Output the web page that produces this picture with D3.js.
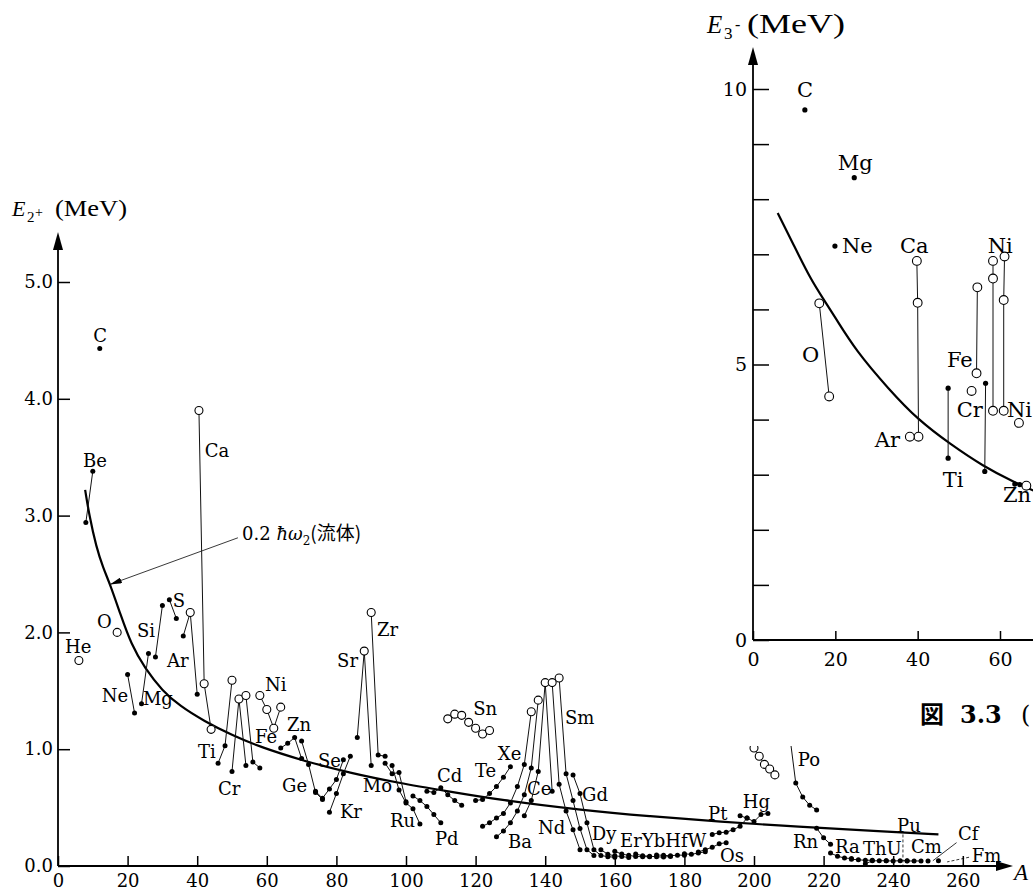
<!DOCTYPE html>
<html>
<head>
<meta charset="utf-8">
<script src="https://cdn.jsdelivr.net/npm/d3@7"></script>
<style>
  body { margin: 0; background: #fff; }
  svg text { font-family: "DejaVu Serif", "Liberation Serif", serif; fill: #000; }
  svg text.title { font-family: "Liberation Serif", serif; }
  .cjk { font-family: "Noto Sans CJK JP", sans-serif; }
</style>
</head>
<body>
<svg id="Target" width="1033" height="892"></svg>
<script>

const mainXTicks = d3.range(0, 261, 20);
const mainYTicks = [0, 1, 2, 3, 4, 5];
const insetXTicks = [0, 20, 40, 60];
const insetYTicks = d3.range(0, 11);

// 0.2 hbar omega_2 (fluid) curve [A, E]
const fluidCurve = [
    [7.8, 3.22], [9, 3.0], [11, 2.73], [13, 2.55], [15, 2.41], [18, 2.15], [21, 1.9],
    [25, 1.69], [30, 1.5], [35, 1.37], [42, 1.24], [50, 1.12], [58, 1.02], [70, 0.905],
    [84, 0.795], [98, 0.71], [112, 0.64], [127, 0.565], [150, 0.48], [170, 0.425],
    [190, 0.38], [213, 0.335], [235, 0.30], [253, 0.27]
];

// fluid curve of the E3- inset
const octupoleCurve = [
    [6, 7.75], [10, 7.15], [14, 6.55], [17, 6.2], [20, 5.85], [25, 5.25], [33, 4.55],
    [40, 4.0], [48, 3.55], [56, 3.15], [63, 2.88], [70, 2.65]
];

// isotope chains: [A, E (MeV), 1 = open circle]
const lightChains = [
    ["He", [[6, 1.76, 1]]],
    ["Be", [[8, 2.94], [10, 3.38]]],
    ["C", [[12, 4.43]]],
    ["O", [[17, 2.0, 1]]],
    ["Ne", [[20, 1.64], [22, 1.31]]],
    ["Mg", [[24, 1.39], [26, 1.82]]],
    ["Si", [[28, 1.79], [30, 2.23]]],
    ["S", [[32, 2.28], [34, 2.12]]],
    ["Ar", [[36, 1.97], [38, 2.17, 1], [40, 1.47]]],
    ["Ca", [[40.5, 3.90, 1], [42, 1.56, 1], [44, 1.17, 1]]],
    ["Ti", [[46, 0.88], [48, 1.03], [50, 1.59, 1]]],
    ["Cr", [[50, 0.81], [52, 1.43, 1], [54, 0.86]]],
    ["Fe", [[54, 1.46, 1], [56, 0.89], [58, 0.84]]],
    ["Ni", [[58, 1.46, 1], [60, 1.34, 1], [62, 1.18, 1], [64, 1.36, 1]]],
    ["Zn", [[64, 1.01], [66, 1.05], [68, 1.10], [70, 0.92]]],
    ["Ge", [[70, 1.07], [72, 0.87], [74, 0.63], [76, 0.57]]],
    ["Se", [[74, 0.64], [76, 0.58], [78, 0.66], [80, 0.74], [82, 0.91]]],
    ["Kr", [[78, 0.46], [80, 0.62], [82, 0.79], [84, 0.94]]],
    ["Sr", [[86, 1.10], [88, 1.84, 1], [90, 0.86]]],
    ["Zr", [[90, 2.17, 1], [92, 0.95], [94, 0.94]]]
];

const midChains = [
    ["Mo", [[94, 0.88], [96, 0.79], [98, 0.80], [100, 0.55]]],
    ["Ru", [[96, 0.86], [98, 0.65], [100, 0.54], [102, 0.49], [104, 0.36]]],
    ["Pd", [[102, 0.60], [104, 0.56], [106, 0.51], [108, 0.44], [110, 0.37]]],
    ["Cd", [[106, 0.64], [108, 0.63], [110, 0.67], [112, 0.61], [114, 0.56], [116, 0.52]]],
    ["Sn", [[112, 1.26, 1], [114, 1.30, 1], [116, 1.29, 1], [118, 1.23, 1], [120, 1.18, 1], [122, 1.13, 1], [124, 1.16, 1]]],
    ["Te", [[120, 0.56], [122, 0.57], [124, 0.62], [126, 0.68], [128, 0.76], [130, 0.85]]],
    ["Xe", [[122, 0.34], [124, 0.37], [126, 0.41], [128, 0.45], [130, 0.54], [132, 0.68], [134, 0.87], [136, 1.32, 1]]],
    ["Ba", [[126, 0.25], [128, 0.30], [130, 0.37], [132, 0.47], [134, 0.61], [136, 0.84], [138, 1.42, 1]]],
    ["Ce", [[134, 0.43], [136, 0.56], [138, 0.81], [140, 1.57, 1], [142, 0.64]]],
    ["Nd", [[142, 1.57, 1], [144, 0.70], [146, 0.47], [148, 0.31], [150, 0.14]]],
    ["Sm", [[144, 1.61, 1], [146, 0.79], [148, 0.56], [150, 0.32], [152, 0.14], [154, 0.09]]],
    ["Gd", [[148, 0.78], [150, 0.62], [152, 0.37], [154, 0.14], [156, 0.09], [158, 0.08], [160, 0.075]]],
    ["Dy", [[156, 0.14], [158, 0.10], [160, 0.087], [162, 0.081], [164, 0.073]]],
    ["Er", [[160, 0.126], [162, 0.102], [164, 0.091], [166, 0.081], [168, 0.080], [170, 0.079]]],
    ["Yb", [[166, 0.102], [168, 0.088], [170, 0.084], [172, 0.079], [174, 0.076], [176, 0.082]]],
    ["Hf", [[172, 0.095], [174, 0.091], [176, 0.088], [178, 0.093], [180, 0.093]]],
    ["W", [[180, 0.104], [182, 0.100], [184, 0.111], [186, 0.122]]]
];

const heavyChains = [
    ["Os", [[184, 0.12], [186, 0.14], [188, 0.16], [190, 0.19], [192, 0.20]]],
    ["Pt", [[188, 0.27], [190, 0.285], [192, 0.29], [194, 0.31], [196, 0.34], [198, 0.41]]],
    ["Hg", [[196, 0.43], [198, 0.41], [200, 0.38], [202, 0.44], [204, 0.45]]],
    ["Pb", [[200, 1.01, 1], [201.5, 0.94, 1], [203, 0.87, 1], [204.5, 0.83, 1], [206, 0.78, 1]]],
    ["Po", [[210, 1.18], [212, 0.71], [214, 0.59], [216, 0.52], [218, 0.48]]],
    ["Rn", [[218, 0.324], [220, 0.241], [222, 0.186]]],
    ["Ra", [[222, 0.111], [224, 0.084], [226, 0.068], [228, 0.064]]],
    ["Th", [[228, 0.058], [230, 0.053], [232, 0.049], [234, 0.050]]],
    ["U", [[232, 0.020], [234, 0.044], [236, 0.045], [238, 0.045]]],
    ["Pu", [[238, 0.044], [240, 0.043], [242, 0.045], [244, 0.046]]],
    ["Cm", [[244, 0.043], [246, 0.043], [248, 0.043]]],
    ["Cf", [[250, 0.042]]],
    ["Fm", [[253, 0.045]]]
];

const insetChains = [
    ["C", [[12.6, 9.62]]],
    ["Mg", [[24.6, 8.39]]],
    ["Ne", [[19.9, 7.15]]],
    ["O", [[16.1, 6.11, 1], [18.5, 4.42, 1]]],
    ["Ca", [[39.8, 6.88, 1], [40, 6.12, 1], [40.2, 3.69, 1]]],
    ["Ar", [[38.1, 3.69, 1]]],
    ["Ti", [[47.4, 4.57], [47.4, 3.30]]],
    ["Cr", [[53.1, 4.52, 1]]],
    ["Fe", [[54.5, 6.40, 1], [54.3, 4.84, 1]]],
    ["Fe", [[56.5, 4.66], [56.3, 3.06]]],
    ["Ni", [[58.3, 6.88, 1], [58.3, 6.56, 1], [58.3, 4.16, 1]]],
    ["Ni", [[61.1, 6.96, 1], [60.9, 6.17, 1], [60.9, 4.16, 1]]],
    ["Ni", [[64.6, 3.94, 1]]],
    ["Zn", [[63.6, 2.83], [64.8, 2.82], [66.4, 2.80, 1]]]
];

// element names, anchored at [A, E] (left end of baseline)
const mainLabels = [
    ["C", 10.1, 4.49], ["Be", 7.2, 3.42], ["Ca", 42.2, 3.50], ["He", 2.0, 1.82], ["O", 11.2, 2.04],
    ["Si", 22.7, 1.96], ["S", 33.0, 2.22], ["Ar", 31.3, 1.70], ["Ne", 12.6, 1.40], ["Mg", 24.4, 1.38],
    ["Ti", 40.2, 0.925], ["Cr", 46, 0.61], ["Fe", 56.6, 1.05], ["Ni", 59.5, 1.50], ["Zn", 65.8, 1.16],
    ["Se", 74.7, 0.85], ["Ge", 64.4, 0.63], ["Kr", 81, 0.41], ["Sr", 80.2, 1.70], ["Zr", 91.7, 1.97],
    ["Mo", 87.6, 0.63], ["Ru", 95.4, 0.33], ["Pd", 108.3, 0.18], ["Cd", 108.9, 0.72], ["Sn", 119.3, 1.29],
    ["Te", 119.8, 0.76], ["Xe", 126.4, 0.91], ["Ce", 134.8, 0.61], ["Ba", 129.3, 0.15], ["Nd", 137.9, 0.27],
    ["Sm", 145.7, 1.22], ["Gd", 150.6, 0.56], ["Dy", 153.4, 0.22], ["Er", 161.5, 0.16], ["YbHfW", 167.8, 0.16],
    ["Os", 190.2, 0.03], ["Pt", 186.8, 0.39], ["Hg", 196.8, 0.50], ["Po", 212.6, 0.86], ["Rn", 211.2, 0.15],
    ["Ra", 223.3, 0.11], ["ThU", 231.3, 0.09], ["Pu", 241.1, 0.29], ["Cm", 245.1, 0.11], ["Cf", 258.6, 0.22],
    ["Fm", 262.6, 0.03]
];

const insetLabels = [
    ["C", 10.7, 9.85], ["Mg", 20.6, 8.53], ["Ne", 21.6, 7.02], ["Ca", 35.7, 7.02], ["Ni", 57.0, 7.02],
    ["O", 11.9, 5.05], ["Fe", 47.1, 4.95], ["Cr", 49.5, 4.05], ["Ni", 61.7, 4.05], ["Ar", 29.6, 3.50],
    ["Ti", 46.1, 2.78], ["Zn", 60.7, 2.50]
];

// thin leader lines for Pu, Cf, Fm: [A1, E1, A2, E2, dashed]
const leaders = [
    [242.8, 0.27, 242.8, 0.0, 1],
    [258.2, 0.20, 251.4, 0.045, 0],
    [261.8, 0.075, 255.5, 0.035, 1]
];

const svg = d3.select("#Target");

const x = d3.scaleLinear().domain([0, 260]).range([58, 962.8]);
const y = d3.scaleLinear().domain([0, 5]).range([866, 282]);
const xi = d3.scaleLinear().domain([0, 60]).range([753, 1000]);
const yi = d3.scaleLinear().domain([0, 10]).range([640, 89]);

const drawChains = (g, chains, xs, ys, rOpen, rDot) => {

    const line = d3.line().x(d => xs(d[0])).y(d => ys(d[1]));

    g.selectAll("path.chain")
        .data(chains)
        .join("path")
        .attr("class", "chain")
        .attr("d", d => line(d[1]))
        .attr("fill", "none")
        .attr("stroke", "#111")
        .attr("stroke-width", 1);

    g.selectAll("circle.pt")
        .data(chains.flatMap(c => c[1]))
        .join("circle")
        .attr("class", "pt")
        .attr("cx", d => xs(d[0]))
        .attr("cy", d => ys(d[1]))
        .attr("r", d => d[2] ? rOpen : rDot)
        .attr("fill", d => d[2] ? "#fff" : "#000")
        .attr("stroke", "#000")
        .attr("stroke-width", d => d[2] ? 1.1 : 0);
};

const defs = svg.append("defs");
defs.append("marker")
    .attr("id", "arrowHead")
    .attr("viewBox", "0 0 12 6")
    .attr("refX", 12)
    .attr("refY", 3)
    .attr("markerUnits", "userSpaceOnUse")
    .attr("markerWidth", 12)
    .attr("markerHeight", 6)
    .attr("orient", "auto")
    .append("path")
    .attr("d", "M0,0 L12,3 L0,6 Z")
    .attr("fill", "#000");

// ---------- main E2+ chart ----------
const main = svg.append("g");

main.append("path")
    .datum(fluidCurve)
    .attr("d", d3.line().x(d => x(d[0])).y(d => y(d[1])).curve(d3.curveBasis))
    .attr("fill", "none")
    .attr("stroke", "#000")
    .attr("stroke-width", 2.2);

drawChains(main.append("g"), lightChains.concat(midChains, heavyChains), x, y, 4, 2.5);

main.selectAll("text.el")
    .data(mainLabels)
    .join("text")
    .attr("class", "el")
    .attr("x", d => x(d[1]))
    .attr("y", d => y(d[2]))
    .attr("font-size", 18)
    .text(d => d[0]);

main.selectAll("line.leader")
    .data(leaders)
    .join("line")
    .attr("class", "leader")
    .attr("x1", d => x(d[0])).attr("y1", d => y(d[1]))
    .attr("x2", d => x(d[2])).attr("y2", d => y(d[3]))
    .attr("stroke", "#000")
    .attr("stroke-width", 0.8)
    .attr("stroke-dasharray", d => d[4] ? "3 2" : null);

// note for the fluid curve
main.append("line")
    .attr("x1", x(51.7)).attr("y1", y(2.81))
    .attr("x2", x(14.9)).attr("y2", y(2.41))
    .attr("stroke", "#222")
    .attr("stroke-width", 0.9)
    .attr("marker-end", "url(#arrowHead)");

const note = main.append("text")
    .attr("x", x(52.9))
    .attr("y", y(2.79))
    .attr("font-size", 18);
note.append("tspan").text("0.2 ");
note.append("tspan").attr("font-style", "italic").text("ħω");
note.append("tspan").attr("font-size", 12).attr("dy", 5).text("2");
note.append("tspan").attr("class", "cjk").attr("font-size", 19).attr("dy", -5).text("(流体)");

// axes
const xAxis = d3.axisBottom(x)
    .tickValues(mainXTicks)
    .tickSizeInner(-10)
    .tickSizeOuter(0)
    .tickPadding(8);

const gx = main.append("g")
    .attr("transform", `translate(0,${y(0)})`)
    .call(xAxis);
gx.select(".domain").remove();
gx.selectAll("line").attr("stroke", "#000").attr("stroke-width", 1.5);
gx.selectAll("text").attr("font-size", 18).attr("fill", "#000");

const yAxis = d3.axisLeft(y)
    .tickValues(mainYTicks)
    .tickSizeInner(-12)
    .tickSizeOuter(0)
    .tickPadding(5)
    .tickFormat(d3.format(".1f"));

const gy = main.append("g")
    .attr("transform", `translate(${x(0)},0)`)
    .call(yAxis);
gy.select(".domain").remove();
gy.selectAll("line").attr("stroke", "#000").attr("stroke-width", 1.5);
gy.selectAll("text").attr("font-size", 18).attr("fill", "#000");

main.append("line")
    .attr("x1", x(0)).attr("x2", 1000)
    .attr("y1", y(0)).attr("y2", y(0))
    .attr("stroke", "#000").attr("stroke-width", 1.8);
main.append("path")
    .attr("d", `M1013,${y(0)} L996,${y(0) - 5} L996,${y(0) + 5} Z`)
    .attr("fill", "#000");

main.append("line")
    .attr("x1", x(0)).attr("x2", x(0))
    .attr("y1", y(0)).attr("y2", 246)
    .attr("stroke", "#000").attr("stroke-width", 1.8);
main.append("path")
    .attr("d", `M${x(0)},232 L${x(0) - 5},250 L${x(0) + 5},250 Z`)
    .attr("fill", "#000");

main.append("text")
    .attr("class", "title")
    .attr("x", 1014).attr("y", 880)
    .attr("font-size", 23)
    .attr("font-style", "italic")
    .text("A");

const t2 = main.append("text").attr("class", "title").attr("y", 216).attr("font-size", 22);
t2.append("tspan").attr("x", 12).attr("font-style", "italic").text("E");
t2.append("tspan").attr("x", 27).attr("dy", 6).attr("font-size", 15).text("2");
t2.append("tspan").attr("x", 35).attr("dy", -5).attr("font-size", 14).text("+");
main.append("text")
    .attr("class", "title")
    .attr("x", 55).attr("y", 216)
    .attr("font-size", 23)
    .attr("textLength", 72)
    .attr("lengthAdjust", "spacingAndGlyphs")
    .text("(MeV)");

// ---------- inset E3- chart ----------
const inset = svg.append("g");

inset.append("rect")
    .attr("x", 700).attr("y", 0)
    .attr("width", 333).attr("height", 746)
    .attr("fill", "#fff");

inset.append("path")
    .datum(octupoleCurve)
    .attr("d", d3.line().x(d => xi(d[0])).y(d => yi(d[1])).curve(d3.curveBasis))
    .attr("fill", "none")
    .attr("stroke", "#000")
    .attr("stroke-width", 2.2);

drawChains(inset.append("g"), insetChains, xi, yi, 4.4, 2.6);

inset.selectAll("text.el")
    .data(insetLabels)
    .join("text")
    .attr("class", "el")
    .attr("x", d => xi(d[1]))
    .attr("y", d => yi(d[2]))
    .attr("font-size", 21)
    .text(d => d[0]);

const gxi = inset.append("g")
    .attr("transform", `translate(0,${yi(0)})`)
    .call(d3.axisBottom(xi).tickValues(insetXTicks).tickSizeInner(-9).tickSizeOuter(0).tickPadding(13));
gxi.select(".domain").remove();
gxi.selectAll("line").attr("stroke", "#000").attr("stroke-width", 1.5);
gxi.selectAll("text").attr("font-size", 19).attr("fill", "#000");

const gyi = inset.append("g")
    .attr("transform", `translate(${xi(0)},0)`)
    .call(d3.axisLeft(yi).tickValues(insetYTicks).tickSizeInner(-16).tickSizeOuter(0).tickPadding(6)
        .tickFormat(d => d % 5 === 0 ? d : ""));
gyi.select(".domain").remove();
gyi.selectAll("line").attr("stroke", "#000").attr("stroke-width", 1.5);
gyi.selectAll("text").attr("font-size", 19).attr("fill", "#000");

inset.append("line")
    .attr("x1", xi(0)).attr("x2", 1033)
    .attr("y1", yi(0)).attr("y2", yi(0))
    .attr("stroke", "#000").attr("stroke-width", 1.8);
inset.append("line")
    .attr("x1", xi(0)).attr("x2", xi(0))
    .attr("y1", yi(0)).attr("y2", 62)
    .attr("stroke", "#000").attr("stroke-width", 1.8);
inset.append("path")
    .attr("d", `M${xi(0)},47 L${xi(0) - 5},65 L${xi(0) + 5},65 Z`)
    .attr("fill", "#000");

const t3 = inset.append("text").attr("class", "title").attr("y", 33).attr("font-size", 25);
t3.append("tspan").attr("x", 707).attr("font-style", "italic").text("E");
t3.append("tspan").attr("x", 724).attr("dy", 6).attr("font-size", 17).text("3");
t3.append("tspan").attr("x", 735).attr("dy", -9).attr("font-size", 16).text("-");
inset.append("text")
    .attr("class", "title")
    .attr("x", 747).attr("y", 33)
    .attr("font-size", 27)
    .attr("textLength", 98)
    .attr("lengthAdjust", "spacingAndGlyphs")
    .text("(MeV)");

const cap = inset.append("text").attr("y", 723).attr("font-size", 24).attr("font-weight", "bold");
cap.append("tspan").attr("x", 920).attr("class", "cjk").text("図");
cap.append("tspan").attr("x", 960).text("3.3");
cap.append("tspan").attr("x", 1021).attr("font-weight", "normal").text("(");

</script>
</body>
</html>
